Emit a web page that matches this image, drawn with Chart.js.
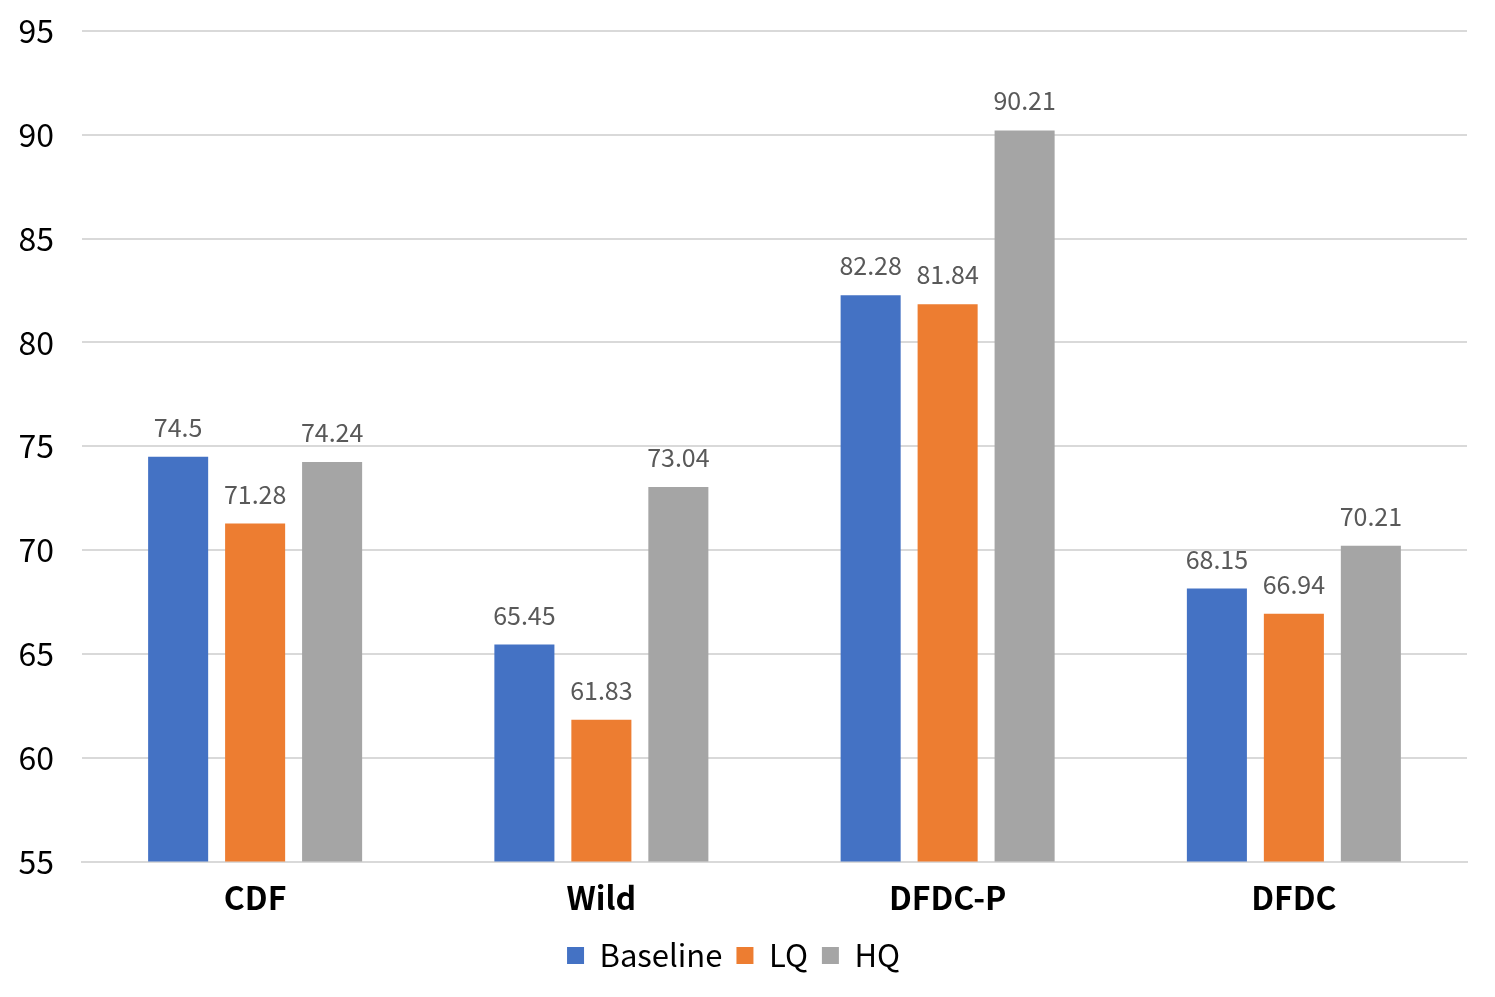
<!DOCTYPE html>
<html>
<head>
<meta charset="utf-8">
<script src="https://cdn.jsdelivr.net/npm/chart.js@4.4.0/dist/chart.umd.min.js"></script>
<style>
  html, body { margin: 0; padding: 0; background: #fff; }
  #wrap { width: 1495px; height: 997px; }
</style>
</head>
<body>
<div id="wrap"><canvas id="barChart"></canvas></div>
<script>
const categories = ['CDF', 'Wild', 'DFDC-P', 'DFDC'];
const baseline = [74.5, 65.45, 82.28, 68.15];
const lq = [71.28, 61.83, 81.84, 66.94];
const hq = [74.24, 73.04, 90.21, 70.21];

const FONT = "'Noto Sans CJK SC', 'Noto Sans', sans-serif";

// valores encima de cada barra
const valueLabels = {
  id: 'valueLabels',
  afterDatasetsDraw(chart) {
    const ctx = chart.ctx;
    ctx.save();
    ctx.font = '25px ' + FONT;
    ctx.fillStyle = '#595959';
    ctx.textAlign = 'center';
    ctx.textBaseline = 'bottom';
    chart.data.datasets.forEach((ds, i) => {
      chart.getDatasetMeta(i).data.forEach((bar, j) => {
        ctx.fillText(String(ds.data[j]), bar.x, bar.y - 17);
      });
    });
    ctx.restore();
  }
};

new Chart(document.getElementById('barChart'), {
  type: 'bar',
  data: {
    labels: categories,
    datasets: [
      { label: 'Baseline', data: baseline, backgroundColor: '#4472C4' },
      { label: 'LQ', data: lq, backgroundColor: '#ED7D31' },
      { label: 'HQ', data: hq, backgroundColor: '#A5A5A5' }
    ]
  },
  options: {
    responsive: true,
    maintainAspectRatio: false,
    animation: false,
    categoryPercentage: 0.667,
    barPercentage: 0.78,
    layout: { padding: { top: 31, right: 28, left: 0, bottom: 16 } },
    plugins: {
      tooltip: { enabled: false },
      legend: {
        position: 'bottom',
        labels: {
          color: '#000',
          font: { family: FONT, size: 31 },
          boxWidth: 17,
          boxHeight: 17,
          padding: 14
        }
      }
    },
    scales: {
      x: {
        grid: { display: false },
        border: { color: '#D9D9D9', width: 2 },
        ticks: { color: '#000', font: { family: FONT, size: 32, weight: 'bold' }, padding: 9 }
      },
      y: {
        min: 55,
        max: 95,
        afterFit(scale) {
          scale.width = 82;
          scale.paddingTop = 0;
          scale.paddingBottom = 0;
        },
        grid: { color: '#D9D9D9', lineWidth: 2, drawTicks: false },
        border: { display: false },
        ticks: { stepSize: 5, color: '#000', font: { family: FONT, size: 32 }, padding: 28 }
      }
    }
  },
  plugins: [valueLabels]
});
</script>
</body>
</html>
